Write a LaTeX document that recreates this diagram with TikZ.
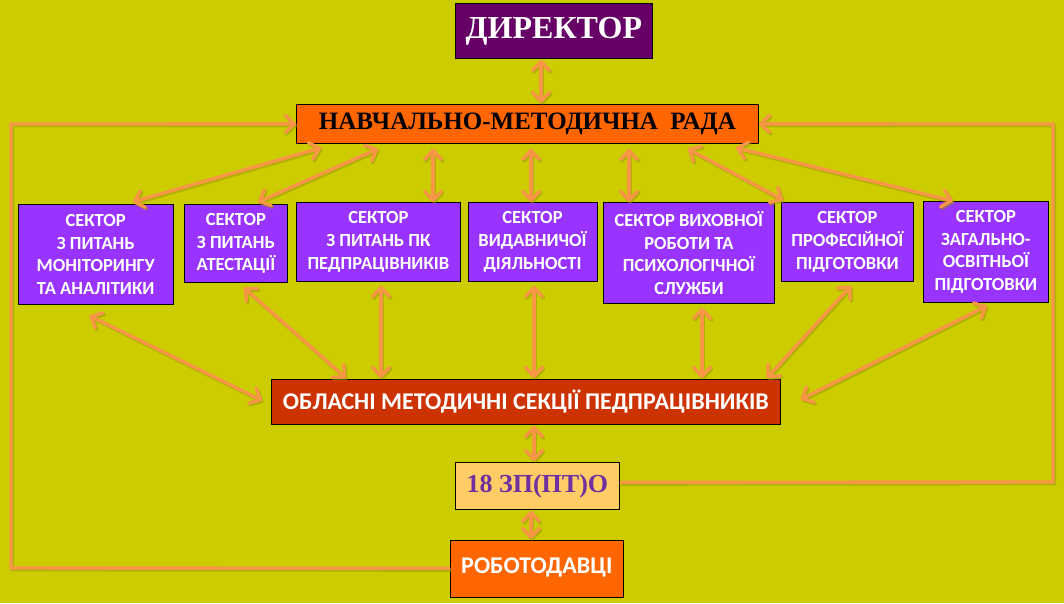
\documentclass[tikz,border=0pt]{standalone}
\usepackage{fontspec}
\setmainfont{Liberation Serif}
\newfontfamily\calib{Carlito}
\usetikzlibrary{arrows.meta,calc}
\definecolor{bgc}{HTML}{CCCC00}
\definecolor{dirc}{HTML}{660066}
\definecolor{radac}{HTML}{FF6600}
\definecolor{sectc}{HTML}{9933FF}
\definecolor{oblc}{HTML}{CC3300}
\definecolor{zpc}{HTML}{FFCC66}
\definecolor{zptext}{HTML}{7030A0}
\definecolor{connc}{HTML}{F79646}
\definecolor{shc}{HTML}{9A9A00}
\begin{document}
\begin{tikzpicture}[x=1pt,y=-1pt,
  box/.style={draw=black, line width=0.8pt, inner sep=0pt, anchor=north west, align=center},
  sect/.style={box, fill=sectc, text=white, font=\calib\bfseries\fontsize{18.5}{22.7}\selectfont},
  barb/.tip={Straight Barb[length=9pt,width=17pt,round]},
  shadowed/.style={preaction={draw=shc, opacity=0.55, line width=3.6pt,
      transform canvas={shift={(1.3pt,-1.6pt)}}}},
  conn/.style={shadowed, draw=connc, line width=3.4pt, line cap=round, barb-barb},
  conn1/.style={shadowed, draw=connc, line width=3.4pt, line join=miter, -barb}]
\fill[bgc] (0,0) rectangle (1064,603);
\useasboundingbox (0,0) rectangle (1064,603);

% connectors (drawn first, boxes on top)
\coordinate (dummy) at (0,0);

% main nodes
\node[box, fill=dirc, text=white, minimum width=197pt, minimum height=55pt,
      font=\bfseries\fontsize{32}{36}\selectfont] (dir) at (455,3) {ДИРЕКТОР};
\node[box, fill=radac, text=black, minimum width=462pt, minimum height=39pt,
      font=\bfseries\fontsize{25}{28}\selectfont] (rada) at (296,104) {НАВЧАЛЬНО-МЕТОДИЧНА~~РАДА};

% sectors
\node[sect, minimum width=155.4pt, minimum height=100pt] (b1) at (17.6,204)
  {СЕКТОР\\З ПИТАНЬ\\МОНІТОРИНГУ\\ТА АНАЛІТИКИ};
\node[sect, minimum width=103pt, minimum height=78pt] (b2) at (184,204)
  {СЕКТОР\\З ПИТАНЬ\\АТЕСТАЦІЇ};
\node[sect, minimum width=164pt, minimum height=79pt] (b3) at (296,202)
  {СЕКТОР\\З ПИТАНЬ ПК\\ПЕДПРАЦІВНИКІВ};
\node[sect, minimum width=129pt, minimum height=79pt] (b4) at (467.6,202)
  {СЕКТОР\\ВИДАВНИЧОЇ\\ДІЯЛЬНОСТІ};
\node[sect, minimum width=171pt, minimum height=101pt] (b5) at (603,202)
  {СЕКТОР ВИХОВНОЇ\\РОБОТИ ТА\\ПСИХОЛОГІЧНОЇ\\СЛУЖБИ};
\node[sect, minimum width=132pt, minimum height=79pt] (b6) at (781,202)
  {СЕКТОР\\ПРОФЕСІЙНОЇ\\ПІДГОТОВКИ};
\node[sect, minimum width=125pt, minimum height=101pt] (b7) at (923,201)
  {СЕКТОР\\ЗАГАЛЬНО-\\ОСВІТНЬОЇ\\ПІДГОТОВКИ};

% lower nodes
\node[box, fill=oblc, text=white, minimum width=509pt, minimum height=45pt,
      font=\calib\bfseries\fontsize{24}{27}\selectfont] (obl) at (271,379)
  {ОБЛАСНІ МЕТОДИЧНІ СЕКЦІЇ ПЕДПРАЦІВНИКІВ};
\node[box, fill=zpc, text=zptext, minimum width=164pt, minimum height=47pt,
      font=\bfseries\fontsize{26}{30}\selectfont] (zp) at (455,462) {18 ЗП(ПТ)О};
\node[box, fill=radac, text=white, minimum width=173pt, minimum height=57pt,
      font=\calib\bfseries\fontsize{24}{27}\selectfont] (rob) at (450,540)
  {\raisebox{6pt}{РОБОТОДАВЦІ}};

% connectors
\draw[conn] ($(dir.south west)+(86,1)$) -- ($(rada.north west)+(245,-1)$);

\draw[conn1] ($(rob.west)+(0,-0.5)$) -- (11,568) -- (11,124) -- (rada.west);
\draw[conn1] ($(zp.east)+(0,-3.5)$) -- (1053,482) -- (1053,124) -- (rada.east);

\draw[conn] ($(rada.south west)+(25,4)$) -- ($(b1.north west)+(115,-2)$);
\draw[conn] ($(rada.south west)+(82,5)$) -- ($(b2.north west)+(74,-2)$);
\draw[conn] ($(rada.south west)+(137,5)$) -- ($(b3.north west)+(137,0)$);
\draw[conn] ($(rada.south west)+(235,5)$) -- ($(b4.north west)+(63.4,0)$);
\draw[conn] ($(rada.south west)+(333,5)$) -- ($(b5.north west)+(26,0)$);
\draw[conn] ($(rada.south west)+(392,5)$) -- ($(b6.north west)+(2,-2)$);
\draw[conn] ($(rada.south west)+(440,4)$) -- ($(b7.north west)+(30,0)$);

\draw[conn] ($(b1.south west)+(72,11)$) -- ($(obl.west)+(-9,-1.5)$);
\draw[conn] ($(b2.south west)+(60,5)$) -- ($(obl.north west)+(75,-1)$);
\draw[conn] ($(b3.south west)+(85,4)$) -- ($(obl.north west)+(110,-1)$);
\draw[conn] ($(b4.south west)+(66.4,4)$) -- ($(obl.north west)+(263,-1)$);
\draw[conn] ($(b5.south west)+(99,4)$) -- ($(obl.north west)+(431,-1)$);
\draw[conn] ($(b6.south west)+(70,4)$) -- ($(obl.north west)+(496,-1)$);
\draw[conn] ($(b7.south west)+(64,3)$) -- ($(obl.east)+(20,-2.5)$);

\draw[conn] ($(obl.south west)+(263,1)$) -- ($(zp.north west)+(79,-1)$);
\draw[conn] ($(zp.south west)+(76,1)$) -- ($(rob.north west)+(81,-1)$);
\end{tikzpicture}
\end{document}
